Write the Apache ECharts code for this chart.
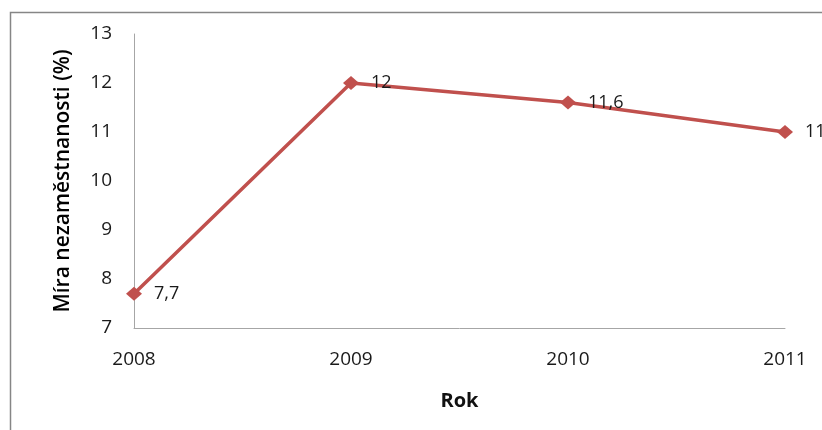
<!DOCTYPE html>
<html>
<head>
<meta charset="utf-8">
<script src="https://cdn.jsdelivr.net/npm/echarts@6/dist/echarts.min.js"></script>
<style>
html,body{margin:0;padding:0;background:#fff;}
#chart{width:822px;height:430px;}
</style>
</head>
<body>
<div id="chart"></div>
<script>
const years = ['2008', '2009', '2010', '2011'];
const unemployment = [7.7, 12, 11.6, 11];
const yAxisTitle = 'Míra nezaměstnanosti (%)';
const xAxisTitle = 'Rok';

const chart = echarts.init(document.getElementById('chart'));
chart.setOption({
  animation: false,
  backgroundColor: '#ffffff',
  graphic: [{
    type: 'rect',
    shape: { x: 10.5, y: 12.5, width: 900, height: 500 },
    style: { fill: 'none', stroke: '#868686', lineWidth: 1.5 },
    silent: true
  }],
  grid: { left: 134, right: 37, top: 34, bottom: 102 },
  xAxis: {
    type: 'category',
    data: years,
    boundaryGap: false,
    axisLine: { lineStyle: { color: '#a6a6a6', width: 1 } },
    axisTick: { show: false },
    axisLabel: { margin: 22, color: '#1a1a1a', fontFamily: 'Open Sans', fontSize: 19 },
    name: xAxisTitle,
    nameLocation: 'middle',
    nameGap: 63,
    nameTextStyle: { fontFamily: 'Open Sans', fontWeight: 'bold', fontSize: 20, color: '#111' },
    splitLine: { show: false }
  },
  yAxis: {
    type: 'value',
    min: 7,
    max: 13,
    interval: 1,
    axisLine: { show: true, lineStyle: { color: '#a6a6a6', width: 1 } },
    axisTick: { show: false },
    splitLine: { show: false },
    axisLabel: { margin: 22, color: '#1a1a1a', fontFamily: 'Open Sans', fontSize: 19 },
    name: yAxisTitle,
    nameLocation: 'middle',
    nameRotate: 90,
    nameGap: 60,
    nameTextStyle: { fontFamily: 'Open Sans', fontWeight: 600, fontSize: 21, color: '#000' }
  },
  series: [{
    type: 'line',
    data: unemployment,
    symbol: 'diamond',
    symbolSize: [16, 14],
    lineStyle: { color: '#C0504D', width: 3.5 },
    itemStyle: { color: '#C0504D' },
    label: {
      show: true,
      position: 'right',
      distance: 12,
      color: '#1a1a1a',
      fontFamily: 'Open Sans',
      fontSize: 18,
      formatter: p => String(p.value).replace('.', ',')
    }
  }]
});
</script>
</body>
</html>
